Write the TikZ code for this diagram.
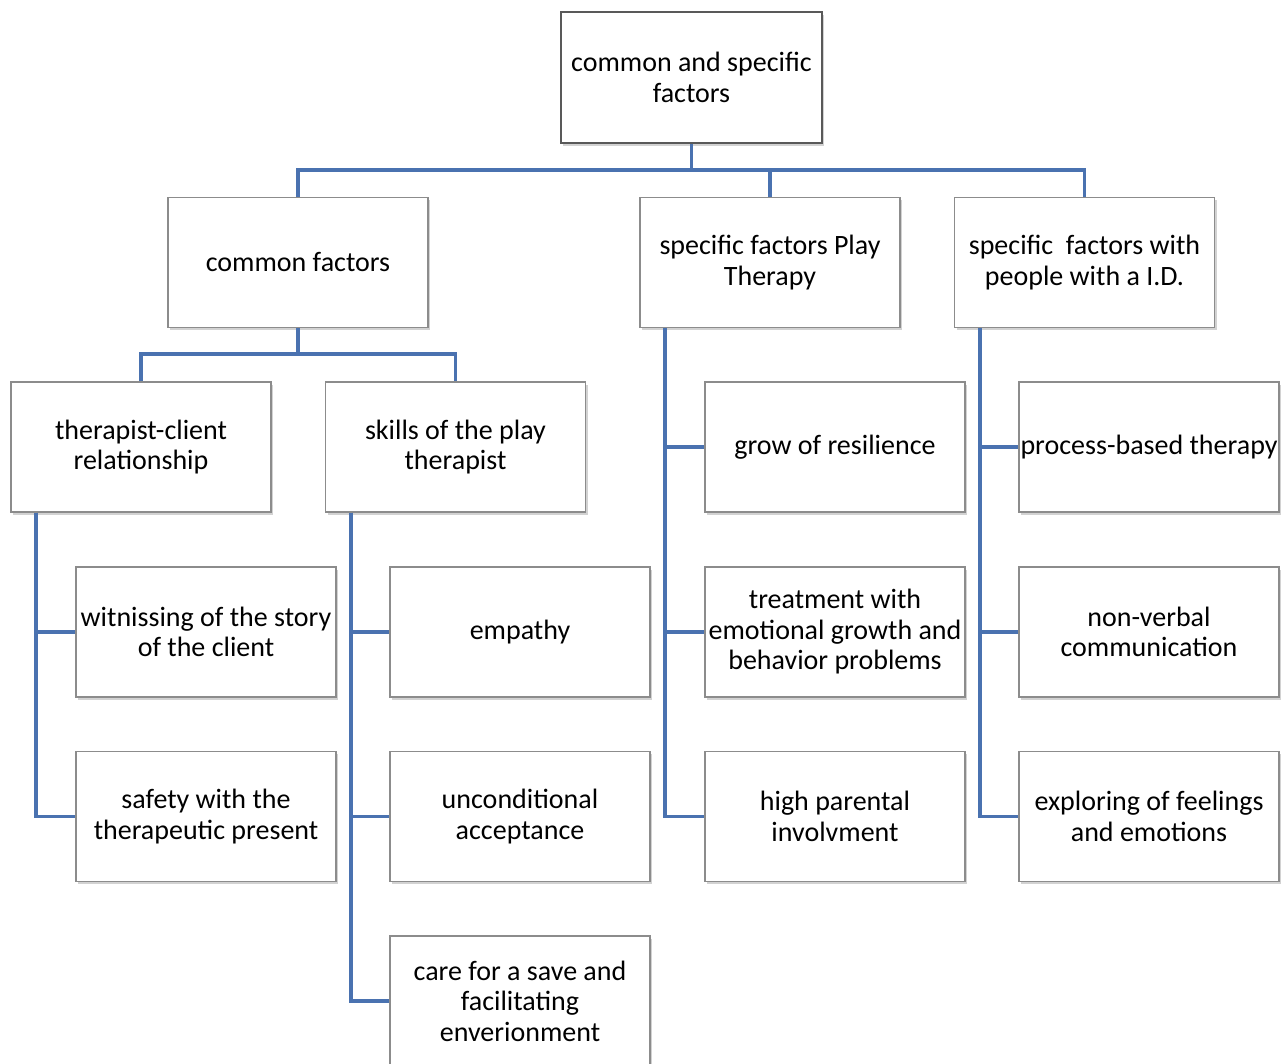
\documentclass[tikz,border=0pt]{standalone}
\usepackage{fontspec}
\setmainfont{Carlito}
\usetikzlibrary{shadows,calc}
\definecolor{conncol}{HTML}{4A72B0}
\definecolor{boxborder}{HTML}{8C8C8C}
\begin{document}
\begin{tikzpicture}[x=1pt,y=-1pt,
  box/.style={draw=boxborder,line width=1.3pt,fill=white,minimum width=260pt,minimum height=130pt,
    inner sep=0pt,align=center,font=\fontsize{28}{30.5}\selectfont,
    drop shadow={shadow xshift=2pt,shadow yshift=-2.5pt,opacity=0.35}},
  topbox/.style={box,draw=black!65,line width=2pt},
  conn/.style={draw=conncol,line width=3.8pt,line join=miter}]
\clip (0,0) rectangle (1287,1063);
\fill[white] (0,0) rectangle (1287,1063);
% nodes
\node[topbox,minimum width=261pt,minimum height=131pt] (top) at (691.5,77.5) {common and specific\\factors};
\node[box] (cf) at (298,262.5) {common factors};
\node[box] (pt) at (770,262.5) {specific factors Play\\Therapy};
\node[box] (id) at (1084.5,262.5) {specific\ \ factors with\\people with a I.D.};
\node[box] (tc) at (141,447) {therapist-client\\relationship};
\node[box] (sk) at (455.5,447) {skills of the play\\therapist};
\node[box] (tc1) at (206,632) {witnissing of the story\\of the client};
\node[box] (tc2) at (206,816.5) {safety with the\\therapeutic present};
\node[box] (sk1) at (520,632) {empathy};
\node[box] (sk2) at (520,816.5) {unconditional\\acceptance};
\node[box] (sk3) at (520,1001) {care for a save and\\facilitating\\enverionment};
\node[box] (pt1) at (835,447) {grow of resilience};
\node[box] (pt2) at (835,632) {treatment with\\emotional growth and\\behavior problems};
\node[box] (pt3) at (835,816.5) {high parental\\involvment};
\node[box] (id1) at (1149,447) {process-based therapy};
\node[box] (id2) at (1149,632) {non-verbal\\communication};
\node[box] (id3) at (1149,816.5) {exploring of feelings\\and emotions};
% buses
\coordinate (bus1) at (691,170);
\coordinate (bus2) at (298,354);
\coordinate (tcv) at ($(tc.south west)+(26,0)$);
\coordinate (skv) at ($(sk.south west)+(26,0)$);
\coordinate (ptv) at ($(pt.south west)+(26,0)$);
\coordinate (idv) at ($(id.south west)+(26,0)$);
% connectors level 1
\draw[conn] (top.south) -- (top.south |- bus1);
\draw[conn] (cf.north) -- (cf.north |- bus1) -- (id.north |- bus1) -- (id.north);
\draw[conn] (pt.north |- bus1) -- (pt.north);
% connectors level 2
\draw[conn] (cf.south) -- (bus2);
\draw[conn] (tc.north) -- (tc.north |- bus2) -- (sk.north |- bus2) -- (sk.north);
% children
\draw[conn] (tcv) |- (tc2.west);
\draw[conn] (tcv) |- (tc1.west);
\draw[conn] (skv) |- (sk3.west);
\draw[conn] (skv) |- (sk2.west);
\draw[conn] (skv) |- (sk1.west);
\draw[conn] (ptv) |- (pt3.west);
\draw[conn] (ptv) |- (pt2.west);
\draw[conn] (ptv) |- (pt1.west);
\draw[conn] (idv) |- (id3.west);
\draw[conn] (idv) |- (id2.west);
\draw[conn] (idv) |- (id1.west);
\end{tikzpicture}
\end{document}
